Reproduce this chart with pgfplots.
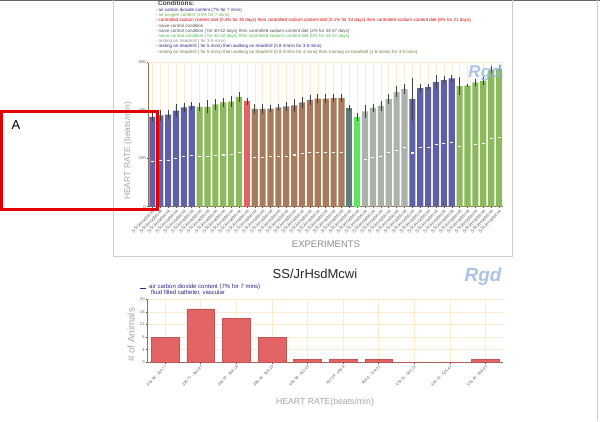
\documentclass[border=0pt]{standalone}
\usepackage{fontspec}
\setmainfont{Liberation Sans}
\usepackage{pgfplots}
\pgfplotsset{compat=1.18}

\definecolor{cBlue}{RGB}{95,96,168}
\definecolor{cGreen}{RGB}{140,185,92}
\definecolor{cRed}{RGB}{226,98,98}
\definecolor{cBrown}{RGB}{166,124,92}
\definecolor{cSlate}{RGB}{95,125,125}
\definecolor{cLime}{RGB}{92,230,92}
\definecolor{cGray}{RGB}{170,178,170}
\definecolor{axisbrown}{RGB}{150,110,80}
\definecolor{gridyellow}{RGB}{250,236,205}
\definecolor{labelgray}{RGB}{165,165,165}
\definecolor{navy}{RGB}{40,40,130}
\definecolor{histred}{RGB}{226,100,100}
\definecolor{logoblue}{RGB}{150,180,222}

\pgfplotsset{
  groupbar/.style={ybar, bar shift=0pt, bar width=0.78, fill=#1, draw=none,
    error bars/.cd, y dir=both, y explicit,
    error bar style={line width=0.7pt, black!75},
    error mark options={line width=0.7pt, black!75, mark size=1.8pt}},
}

\begin{document}
\begin{tikzpicture}
\path[use as bounding box] (0pt,0pt) rectangle (600pt,421pt);

% page frames
\draw[black!60, line width=1pt] (0pt,420.5pt) -- (600pt,420.5pt);
\draw[black!20, line width=0.6pt] (113pt,421pt) -- (113pt,165pt) -- (512pt,165pt) -- (512pt,421pt);
\draw[black!20, line width=0.6pt] (597pt,0pt) -- (597pt,421pt);

% conditions legend
\node[anchor=base west, font=\fontsize{6.5}{7}\selectfont\bfseries, text=black!75, inner sep=0pt] at (158pt,415pt) {Conditions:};
\begin{scope}[every node/.style={anchor=base west, inner sep=0pt, font=\fontsize{4.5}{5}\selectfont}]
\node[text=navy] at (155.7pt,409.5pt) {- air carbon dioxide content (7\% for 7 mins)};
\node[text=cGreen!85!black] at (155.7pt,404.3pt) {- air oxygen content (13\% for 7 mins)};
\node[text=red!85!black] at (155.7pt,399.1pt) {- controlled sodium content diet (0.4\% for 35 days) then controlled sodium content diet (0.1\% for 33 days) then controlled sodium content diet (8\% for 21 days)};
\node[text=cBrown!60!black] at (155.7pt,393.9pt) {- naive control condition};
\node[text=cSlate!70!black] at (155.7pt,388.7pt) {- naive control condition ( for 40-42 days) then controlled sodium content diet (2\% for 33-37 days)};
\node[text=cLime!80!black] at (155.7pt,383.5pt) {- naive control condition ( for 40-42 days) then controlled sodium content diet (0\% for 33-37 days)};
\node[text=black!45] at (155.7pt,378.3pt) {- resting on treadmill ( for 3-5 mins)};
\node[text=navy] at (155.7pt,373.1pt) {- resting on treadmill ( for 5 mins) then walking on treadmill (0.8 m/min for 3-5 mins)};
\node[text=cGreen!70!black] at (155.7pt,367.9pt) {- resting on treadmill ( for 5 mins) then walking on treadmill (0.8 m/min for 3 mins) then running on treadmill (1.6 m/min for 3-5 mins)};
\end{scope}

% top chart
\begin{axis}[
  at={(148.4pt,214.4pt)}, anchor=south west,
  scale only axis, width=354.6pt, height=144.6pt,
  xmin=-0.5, xmax=44.5, ymin=0, ymax=600,
  axis x line*=bottom, axis y line*=left,
  axis line style={draw=axisbrown, line width=0.8pt},
  tick align=outside, major tick length=1.5pt,
  tick style={black!70, line width=0.5pt},
  xtick={0,...,44}, xticklabel={SS/JrHsdMcwi},
  x tick label style={rotate=45, anchor=north east, inner sep=0.8pt,
    font=\fontsize{4.6}{5}\selectfont, text=black!60},
  ytick={0,200,400,600},
  y tick label style={font=\fontsize{4.2}{5}\selectfont, text=black!60, inner sep=1pt},
  /pgf/number format/assume math mode=true,
  xmajorgrids, grid style={gridyellow, line width=0.5pt},
  clip=false,
]
\draw[gridyellow, line width=0.5pt] (axis cs:-0.5,600) -- (axis cs:44.5,600);
\addplot[groupbar=cBlue] coordinates {
  (0,372) +- (0,10) (1,379) +- (0,15) (2,382) +- (0,12)
  (3,398) +- (0,20) (4,412) +- (0,12) (5,418) +- (0,10)};
\addplot[groupbar=cGreen] coordinates {
  (6,414) +- (0,10) (7,414) +- (0,20) (8,424) +- (0,15)
  (9,432) +- (0,12) (10,436) +- (0,15) (11,455) +- (0,12)};
\addplot[groupbar=cRed] coordinates {(12,437) +- (0,8)};
\addplot[groupbar=cBrown] coordinates {
  (13,405) +- (0,12) (14,405) +- (0,12) (15,407) +- (0,8)
  (16,412) +- (0,8) (17,416) +- (0,10) (18,420) +- (0,18)
  (19,432) +- (0,15) (20,442) +- (0,15) (21,448) +- (0,12)
  (22,448) +- (0,12) (23,450) +- (0,10) (24,450) +- (0,8)};
\addplot[groupbar=cSlate] coordinates {(25,409) +- (0,5)};
\addplot[groupbar=cLime] coordinates {(26,372) +- (0,9)};
\addplot[groupbar=cGray] coordinates {
  (27,395) +- (0,18) (28,410) +- (0,8) (29,417) +- (0,12)
  (30,446) +- (0,12) (31,476) +- (0,15) (32,488) +- (0,12)};
\addplot[groupbar=cBlue] coordinates {
  (33,446) +- (0,82) (34,492) +- (0,8) (35,497) +- (0,5)
  (36,516) +- (0,22) (37,525) +- (0,10) (38,532) +- (0,8)};
\addplot[groupbar=cGreen] coordinates {
  (39,500) +- (0,30) (40,502) +- (0,0) (41,515) +- (0,8)
  (42,522) +- (0,10) (43,566) +- (0,10) (44,573) +- (0,8)};
% second measurement (white marks)
\addplot[only marks, mark=-, mark size=1.5pt, mark options={draw=white, line width=1.2pt}] coordinates {
  (0,186) (1,192) (2,192) (3,200) (4,207) (5,211)
  (6,207) (7,207) (8,211) (9,214) (10,217) (11,225)
  (13,203) (14,203) (15,207) (16,209) (17,209) (18,214)
  (19,221) (20,225) (21,225) (22,225) (23,225) (24,225)
  (27,197) (28,204) (29,207) (30,223) (31,234) (32,244)
  (33,222) (34,245) (35,246) (36,258) (37,262) (38,265)
  (39,251) (41,258) (42,262) (43,282) (44,287)};
\end{axis}

\node[rotate=90, font=\fontsize{8.5}{9}\selectfont, text=labelgray] at (128pt,270pt) {HEART RATE (beats/min)};
\node[font=\fontsize{9.5}{10}\selectfont, text=black!45] at (326pt,177pt) {EXPERIMENTS};
\node[font=\fontsize{17}{18}\selectfont\bfseries\itshape, text=logoblue, opacity=0.8] at (485pt,348pt) {Rgd};

% bottom chart
\node[font=\fontsize{13}{14}\selectfont, text=black!85] at (315pt,147pt) {SS/JrHsdMcwi};
\node[font=\fontsize{19}{20}\selectfont\bfseries\itshape, text=logoblue, opacity=0.8] at (483pt,144pt) {Rgd};
\draw[navy, line width=1.3pt] (140pt,132.5pt) -- (146pt,132.5pt);
\node[anchor=base west, inner sep=0pt, font=\fontsize{6}{7}\selectfont, text=navy] at (149pt,133pt) {air carbon dioxide content (7\% for 7 mins)};
\node[anchor=base west, inner sep=0pt, font=\fontsize{6}{7}\selectfont, text=navy] at (151pt,127pt) {fluid filled catheter, vascular};

\begin{axis}[
  at={(147.3pt,58.7pt)}, anchor=south west,
  scale only axis, width=356pt, height=63pt,
  xmin=-0.5, xmax=9.5, ymin=0, ymax=20,
  axis x line*=bottom, axis y line*=left,
  axis line style={draw=axisbrown, line width=0.8pt},
  tick align=outside, major tick length=1.5pt,
  tick style={black!70, line width=0.5pt},
  xtick={0,...,9},
  xticklabels={316.56 - 339.77, 339.77 - 362.97, 362.97 - 386.18, 386.18 - 409.39,
    409.39 - 432.59, 432.59 - 455.8, 455.8 - 479.01, 479.01 - 502.22,
    502.22 - 525.42, 525.42 - 548.63},
  x tick label style={rotate=45, anchor=north east, inner sep=1pt,
    font=\fontsize{3.8}{4}\selectfont, text=black!65},
  ytick={0,4,...,20},
  y tick label style={font=\fontsize{4.2}{5}\selectfont, text=black!60, inner sep=1pt},
  /pgf/number format/assume math mode=true,
  xmajorgrids, ymajorgrids, grid style={gridyellow, line width=0.5pt},
]
\addplot[ybar, bar shift=0pt, bar width=0.78, fill=histred, draw=histred!85!black, line width=0.3pt]
  coordinates {(0,8) (1,17) (2,14) (3,8) (4,1) (5,1) (6,1) (7,0) (8,0) (9,1)};
\end{axis}
\node[rotate=90, font=\fontsize{9.8}{10}\selectfont, text=labelgray] at (131pt,86pt) {\# of Animals};
\node[font=\fontsize{8.7}{9}\selectfont, text=labelgray] at (325pt,19pt) {HEART RATE(beats/min)};

% annotation box
\draw[red!90!black, line width=3pt] (1.5pt,309.5pt) rectangle (157.7pt,211.5pt);
\node[font=\fontsize{13}{14}\selectfont, anchor=center] at (16pt,296pt) {A};
\end{tikzpicture}
\end{document}
